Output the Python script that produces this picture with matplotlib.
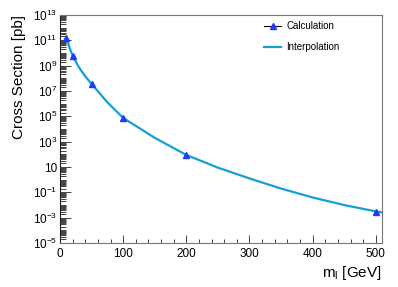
import matplotlib
matplotlib.use('Agg')
import matplotlib.pyplot as plt
from matplotlib.ticker import FixedLocator, FuncFormatter, MultipleLocator, NullFormatter
import numpy as np

plt.rcParams['font.family'] = ['Liberation Sans', 'DejaVu Sans']
plt.rcParams['mathtext.fontset'] = 'custom'
plt.rcParams['mathtext.rm'] = 'Liberation Sans'
plt.rcParams['mathtext.it'] = 'Liberation Sans:italic'

# calculated cross sections (pb) at lepton masses (GeV)
calc_mass = [10, 20, 50, 100, 200, 500]
calc_xsec = [1.5e11, 5.8e9, 3.5e7, 7.4e4, 90, 2.8e-3]

# interpolation curve (log10 of pb)
interp_mass = [10, 15, 20, 30, 40, 50, 75, 100, 150, 200, 250, 300, 350, 400, 450, 500, 510]
interp_log = [11.18, 10.4, 9.76, 8.85, 8.15, 7.55, 6.1, 4.87, 3.3, 1.95, 0.95, 0.1,
              -0.7, -1.4, -2.0, -2.5, -2.58]
interp_xsec = [10.0 ** v for v in interp_log]

CURVE_COLOR = '#14a0d4'
MARKER_COLOR = '#1a3cff'

fig = plt.figure(figsize=(3.98, 2.87), dpi=100)
ax = fig.add_axes([0.151, 0.153, 0.809, 0.795])

ax.plot(interp_mass, interp_xsec, color=CURVE_COLOR, lw=1.6, label='Interpolation', zorder=2)
ax.plot(calc_mass, calc_xsec, ls='none', marker='^', ms=5, color=MARKER_COLOR, zorder=3)

ax.set_yscale('log')
ax.set_xlim(0, 510)
ax.set_ylim(1e-5, 1e13)

# y ticks: labelled every other decade, dense minor ticks
major_y = [10.0 ** e for e in range(-5, 14, 2)]
minor_y = [m * 10.0 ** e for e in range(-5, 13) for m in range(1, 10)
           if not (m == 1 and e % 2 != 0)]
ax.yaxis.set_major_locator(FixedLocator(major_y))
ax.yaxis.set_minor_locator(FixedLocator(minor_y))


def fmt_y(v, pos):
    e = int(round(np.log10(v)))
    if e == 1:
        return '10'
    return r'$\mathregular{10^{%d}}$' % e


ax.yaxis.set_major_formatter(FuncFormatter(fmt_y))
ax.yaxis.set_minor_formatter(NullFormatter())
ax.xaxis.set_major_locator(MultipleLocator(100))
ax.xaxis.set_minor_locator(MultipleLocator(20))

ax.tick_params(axis='both', which='both', direction='in', top=False, right=False,
               labelsize=8.5, color='#444444', width=0.7)
ax.tick_params(axis='y', which='major', length=8, pad=2)
ax.tick_params(axis='y', which='minor', length=4)
ax.tick_params(axis='x', which='major', length=6)
ax.tick_params(axis='x', which='minor', length=3)

for s in ['top', 'right', 'bottom']:
    ax.spines[s].set_color('#777777')
ax.spines['left'].set_color('#222222')

ax.set_ylabel('Cross Section [pb]', fontsize=11, loc='top', labelpad=5)
ax.set_xlabel(r'm$_\mathregular{l}$ [GeV]', fontsize=11, loc='right', labelpad=3)

# legend handles: marker with black line, and curve
h1, = ax.plot([], [], color='black', lw=0.8, marker='^', ms=5,
              markerfacecolor=MARKER_COLOR, markeredgecolor=MARKER_COLOR)
h2, = ax.plot([], [], color=CURVE_COLOR, lw=1.6)
ax.legend([h1, h2], ['Calculation', 'Interpolation'], loc='upper right',
          bbox_to_anchor=(0.895, 1.01), frameon=False, fontsize=7,
          handlelength=1.8, handletextpad=0.5, labelspacing=1.1)

fig.savefig('out.png', dpi=100)
